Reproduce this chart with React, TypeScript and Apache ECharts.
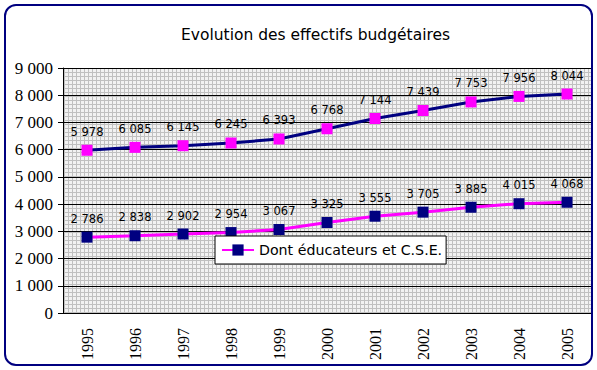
import React, { useEffect, useRef } from 'react';
import * as echarts from 'echarts';

const titleText = 'Evolution des effectifs budgétaires';
const years = ['1995', '1996', '1997', '1998', '1999', '2000', '2001', '2002', '2003', '2004', '2005'];
const totalName = 'Effectifs budgétaires';
const totalValues = [5978, 6085, 6145, 6245, 6393, 6768, 7144, 7439, 7753, 7956, 8044];
const educName = 'Dont éducateurs et C.S.E.';
const educValues = [2786, 2838, 2902, 2954, 3067, 3325, 3555, 3705, 3885, 4015, 4068];
const yMin = 0;
const yMax = 9000;
const yStep = 1000;

const NAVY = '#000080';
const MAGENTA = '#ff00ff';

function fmt(v: number): string {
  const s = String(Math.round(v));
  return s.length > 3 ? s.slice(0, -3) + ' ' + s.slice(-3) : s;
}

function makePattern(): string {
  const c = document.createElement('canvas');
  c.width = 4;
  c.height = 4;
  const ctx = c.getContext('2d');
  if (ctx) {
    ctx.fillStyle = '#f2f2f2';
    ctx.fillRect(0, 0, 4, 4);
    ctx.fillStyle = '#c0c0c0';
    ctx.fillRect(0, 0, 4, 1);
    ctx.fillRect(0, 0, 1, 4);
  }
  return c.toDataURL();
}

export default function App() {
  const ref = useRef<HTMLDivElement>(null);
  useEffect(() => {
    if (!ref.current) return;
    const chart = echarts.init(ref.current, undefined, { renderer: 'svg' });
    const labelStyle = {
      show: true,
      position: 'top' as const,
      distance: 7,
      fontFamily: 'DejaVu Sans',
      fontSize: 11.5,
      color: '#000',
      formatter: (p: any) => fmt(p.value),
    };
    chart.setOption({
      animation: false,
      backgroundColor: '#ffffff',
      title: {
        text: titleText,
        left: 176,
        top: 22,
        textStyle: { fontFamily: 'DejaVu Sans', fontSize: 15.5, fontWeight: 'normal', color: '#000' },
      },
      legend: {
        data: [educName],
        left: 215,
        top: 236,
        padding: [7, 4, 7, 6],
        backgroundColor: '#ffffff',
        borderColor: '#000',
        borderWidth: 1,
        itemWidth: 32,
        itemHeight: 14,
        textStyle: { fontFamily: 'DejaVu Sans', fontSize: 14.2, color: '#000' },
        z: 20,
      },
      grid: {
        left: 63,
        right: 6,
        top: 68,
        bottom: 57,
        show: true,
        borderWidth: 0,
        backgroundColor: { image: makePattern(), repeat: 'repeat' },
      },
      xAxis: {
        type: 'category',
        data: years,
        boundaryGap: true,
        axisLine: { show: true, lineStyle: { color: '#000', width: 1 } },
        axisTick: { show: false },
        axisLabel: {
          rotate: 90,
          margin: 15,
          fontFamily: 'Liberation Serif',
          fontSize: 16,
          color: '#000',
        },
        splitLine: { show: false },
      },
      yAxis: {
        type: 'value',
        min: yMin,
        max: yMax,
        interval: yStep,
        axisLine: { show: true, lineStyle: { color: '#000', width: 1 } },
        axisTick: { show: true, length: 5, lineStyle: { color: '#000' } },
        axisLabel: {
          margin: 10,
          fontFamily: 'Liberation Serif',
          fontSize: 17,
          color: '#000',
          formatter: (v: number) => fmt(v),
        },
        splitLine: { show: true, lineStyle: { color: '#000', width: 1 } },
      },
      series: [
        {
          name: totalName,
          type: 'line',
          data: totalValues,
          symbol: 'rect',
          symbolSize: 11,
          lineStyle: { color: NAVY, width: 3 },
          itemStyle: { color: MAGENTA },
          label: labelStyle,
          z: 5,
        },
        {
          name: educName,
          type: 'line',
          data: educValues,
          symbol: 'rect',
          symbolSize: 11,
          lineStyle: { color: MAGENTA, width: 3 },
          itemStyle: { color: NAVY },
          label: labelStyle,
          z: 5,
        },
      ],
      graphic: [
        {
          type: 'rect',
          z: 100,
          shape: { x: 5, y: 5, width: 587, height: 360, r: 11 },
          style: { fill: 'none', stroke: NAVY, lineWidth: 2 },
          silent: true,
        },
      ],
    });
    return () => chart.dispose();
  }, []);
  return (
    <div
      ref={ref}
      style={{ position: 'fixed', left: 0, top: 0, width: 597, height: 370 }}
    />
  );
}
